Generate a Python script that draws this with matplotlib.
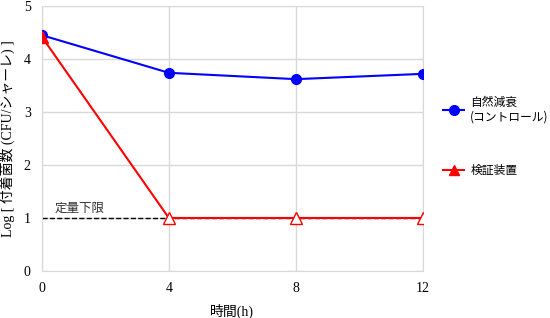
import numpy as np
import matplotlib.pyplot as plt

# data
hours = [0, 4, 8, 12]
control = [4.45, 3.74, 3.62, 3.72]
device = [4.42, 1.0, 1.0, 1.0]
lod = 1.0

serif = ['Liberation Serif', 'Noto Sans CJK JP']
sans = ['Noto Sans CJK JP', 'DejaVu Sans']
plt.rcParams['font.family'] = serif

fig = plt.figure(figsize=(5.5, 3.18), dpi=100)
ax = fig.add_axes([0.076, 0.148, 0.693, 0.833])

ax.plot(hours, [lod] * len(hours), color='black', ls='--', lw=1.0, zorder=2)
ax.text(0.4, lod + 0.12, '定量下限', family=sans, fontsize=9, color='#333333')

ax.plot(hours, control, color='blue', lw=1.5, marker='o', ms=7, zorder=3,
        label='自然減衰\n(コントロール)')
ax.plot(hours, device, color='red', lw=1.5, zorder=3)
ax.plot(hours[1:], device[1:], ls='none', marker='^', ms=8, mfc='white',
        mec='red', mew=1.0, zorder=4)
ax.plot(hours[:1], device[:1], ls='none', marker='^', ms=8, color='red', zorder=4)
ax.plot([], [], color='red', lw=1.5, marker='^', ms=7, label='検証装置')

ax.set_xlim(0, 12)
ax.set_ylim(0, 5)
ax.set_xticks(hours)
ax.set_yticks(range(6))
ax.grid(True, color='#d9d9d9', lw=1.0)
ax.set_axisbelow(True)
for s in ax.spines.values():
    s.set_color('#d9d9d9')
ax.tick_params(length=0, labelsize=10, pad=8)
ax.margins(0)

ax.set_xlabel('時間(h)', fontsize=10, labelpad=6)
ax.set_ylabel('Log [ 付着菌数 (CFU/シャーレ) ]', fontsize=10, labelpad=6)

leg = fig.legend(loc='upper left', bbox_to_anchor=(0.795, 0.718), frameon=False,
                 prop={'family': sans, 'size': 8.5}, labelspacing=3.4,
                 handlelength=1.8, handletextpad=0.5, borderpad=0)

plt.savefig('out.png', dpi=100)
